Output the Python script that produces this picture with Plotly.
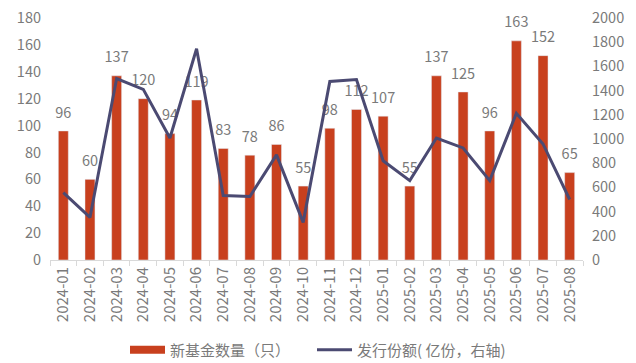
import plotly.graph_objects as go

months = ["2024-01","2024-02","2024-03","2024-04","2024-05","2024-06","2024-07","2024-08","2024-09","2024-10",
          "2024-11","2024-12","2025-01","2025-02","2025-03","2025-04","2025-05","2025-06","2025-07","2025-08"]
fund_count = [96, 60, 137, 120, 94, 119, 83, 78, 86, 55, 98, 112, 107, 55, 137, 125, 96, 163, 152, 65]
issue_share = [557, 352, 1500, 1410, 1008, 1746, 533, 525, 869, 311, 1475, 1492, 820, 656, 1008, 926, 656, 1213, 959, 500]

left_ticks = list(range(0, 181, 20))
right_ticks = list(range(0, 2001, 200))

FONT = "Noto Sans CJK SC"
GREY = "#7a7a7a"
RED = "#C8401E"
NAVY = "#4B4A72"
FS = 14.5

fig = go.Figure()
fig.add_trace(go.Bar(
    x=months, y=fund_count, name="新基金数量（只）",
    marker_color=RED, showlegend=False,
))
fig.add_trace(go.Scatter(
    x=months, y=issue_share, name="发行份额( 亿份，右轴)",
    mode="lines", line=dict(color=NAVY, width=3),
    yaxis="y2", showlegend=False,
))
fig.add_trace(go.Scatter(
    x=months, y=fund_count, mode="markers+text",
    text=[str(v) for v in fund_count], textposition="top center",
    textfont=dict(size=FS, color=GREY, family=FONT),
    marker=dict(size=14, opacity=0), showlegend=False, hoverinfo="skip",
    cliponaxis=False,
))
# legend entries (two single-item legends so their spacing can be set)
fig.add_trace(go.Scatter(x=[None], y=[None], mode="lines", name="新基金数量（只）",
                         line=dict(color=RED, width=8), legend="legend"))
fig.add_trace(go.Scatter(x=[None], y=[None], mode="lines", name="发行份额( 亿份，右轴)",
                         line=dict(color=NAVY, width=3), legend="legend2"))

leg_common = dict(orientation="h", xanchor="left", xref="container",
                  y=0.0366, yanchor="middle", yref="container",
                  itemwidth=35, bgcolor="rgba(0,0,0,0)",
                  font=dict(size=15, color=GREY))

# page body has an 8px margin; size the figure so it fills the 636x363 window
fig.update_layout(
    width=628, height=355,
    margin=dict(l=42, r=53, t=10, b=103),
    plot_bgcolor="white", paper_bgcolor="white",
    font=dict(family=FONT, size=FS, color=GREY),
    bargap=0.625,
    showlegend=True,
    legend=dict(x=117 / 628, **leg_common),
    legend2=dict(x=304 / 628, **leg_common),
    xaxis=dict(type="category", range=[-0.5, 19.5], tickangle=-90, showline=True,
               linecolor="#d9d9d9", linewidth=1,
               ticks="outside", tickcolor="#d9d9d9", ticklen=5, automargin=False,
               tickson="boundaries", tickfont=dict(size=15, color=GREY)),
    yaxis=dict(range=[0, 180], tickvals=left_ticks, showgrid=False, zeroline=False,
               ticklabelstandoff=8, ticklabeloverflow="allow",
               automargin=False, tickfont=dict(size=FS, color=GREY)),
    yaxis2=dict(range=[0, 2000], tickvals=right_ticks, overlaying="y", side="right",
                ticklabelstandoff=8, ticklabeloverflow="allow",
                automargin=False, showgrid=False, zeroline=False, tickfont=dict(size=FS, color=GREY)),
)

fig.write_html("out.html")
